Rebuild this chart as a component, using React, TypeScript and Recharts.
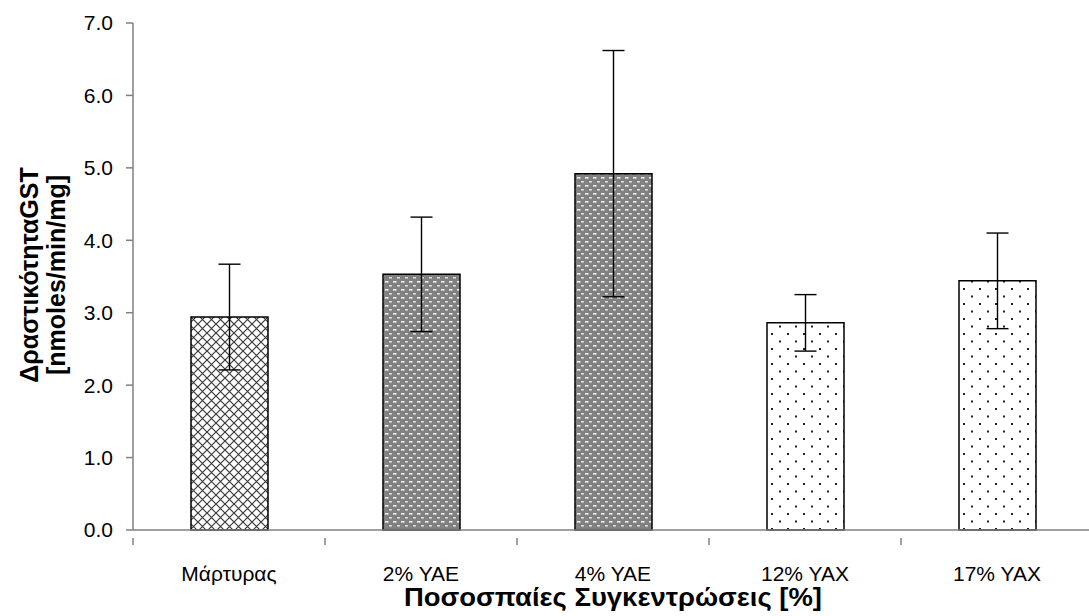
import { BarChart, Bar, XAxis, YAxis, ErrorBar, Cell, Label } from "recharts";

const categories = ["Μάρτυρας", "2% ΥΑΕ", "4% ΥΑΕ", "12% ΥΑΧ", "17% ΥΑΧ"];
const activity = [2.94, 3.53, 4.92, 2.86, 3.44];
const stdDev = [0.73, 0.79, 1.7, 0.39, 0.66];
const patterns = ["crosshatch", "brick", "brick", "dots", "dots"];
const yTicks = [0, 1, 2, 3, 4, 5, 6, 7];

const data = categories.map((name, i) => ({
  name,
  value: activity[i],
  err: stdDev[i],
  pattern: patterns[i],
}));

const font = "'Liberation Sans', Arial, sans-serif";
const BAND = 192;

const XTick = ({ x, y, payload }: any) => (
  <g>
    <line x1={x - BAND / 2} y1={y} x2={x - BAND / 2} y2={y + 7} stroke="#808080" strokeWidth={1.5} />
    <text x={x} y={y + 43} textAnchor="middle" fontSize={21} fontFamily={font} fill="#000">
      {payload.value}
    </text>
  </g>
);

const YTitle = () => (
  <text
    transform="translate(43, 275) rotate(-90)"
    textAnchor="middle"
    fontSize={25}
    fontWeight="bold"
    fontFamily={font}
    fill="#000"
  >
    <tspan x={0} y={-5}>ΔραστικότηταGST</tspan>
    <tspan x={0} y={22}>[nmoles/min/mg]</tspan>
  </text>
);

const App = () => (
  <div style={{ position: "absolute", left: 0, top: 0, width: 1089, height: 616, overflow: "hidden", background: "#fff" }}>
    <svg width={0} height={0} style={{ position: "absolute" }}>
      <defs>
        <pattern id="crosshatch" width={9} height={9} patternUnits="userSpaceOnUse">
          <rect width={9} height={9} fill="#fff" />
          <path d="M0,0 L9,9 M9,0 L0,9" stroke="#3a3a3a" strokeWidth={1.2} />
        </pattern>
        <pattern id="brick" width={8} height={8} patternUnits="userSpaceOnUse">
          <rect width={8} height={8} fill="#808080" />
          <rect x={1} y={1} width={3.5} height={1.6} fill="#f2f2f2" />
          <rect x={5} y={5} width={3.5} height={1.6} fill="#dadada" />
        </pattern>
        <pattern id="dots" width={16} height={15} patternUnits="userSpaceOnUse">
          <rect width={16} height={15} fill="#fff" />
          <rect x={3} y={3} width={2} height={2} fill="#222" />
          <rect x={11} y={10.5} width={2} height={2} fill="#222" />
        </pattern>
      </defs>
    </svg>
    <BarChart
      width={1100}
      height={616}
      data={data}
      margin={{ top: 23, right: 7, bottom: 56, left: 33 }}
    >
      <XAxis
        dataKey="name"
        height={30}
        axisLine={{ stroke: "#808080", strokeWidth: 1.5 }}
        tickLine={false}
        tick={<XTick />}
        interval={0}
      >
        <Label
          content={() => (
            <text
              x={613}
              y={606}
              textAnchor="middle"
              fontSize={25}
              fontWeight="bold"
              fontFamily={font}
              fill="#000"
              textLength={418}
              lengthAdjust="spacingAndGlyphs"
            >
              Ποσοσπαίες Συγκεντρώσεις [%]
            </text>
          )}
        />
      </XAxis>
      <YAxis
        width={100}
        domain={[0, 7]}
        ticks={yTicks}
        interval={0}
        tickFormatter={(v: number) => v.toFixed(1)}
        axisLine={{ stroke: "#808080", strokeWidth: 1.5 }}
        tickLine={{ stroke: "#808080", strokeWidth: 1.5 }}
        tickSize={7}
        tickMargin={13}
        tick={{ fontSize: 21, fontFamily: font, fill: "#000" }}
      >
        <Label content={() => <YTitle />} />
      </YAxis>
      <Bar dataKey="value" barSize={77} stroke="#000" strokeWidth={1.5} isAnimationActive={false}>
        {data.map((d, i) => (
          <Cell key={`cell-${i}`} fill={`url(#${d.pattern})`} />
        ))}
        <ErrorBar dataKey="err" width={11} stroke="#000" strokeWidth={1.4} direction="y" />
      </Bar>
    </BarChart>
  </div>
);

export default App;
